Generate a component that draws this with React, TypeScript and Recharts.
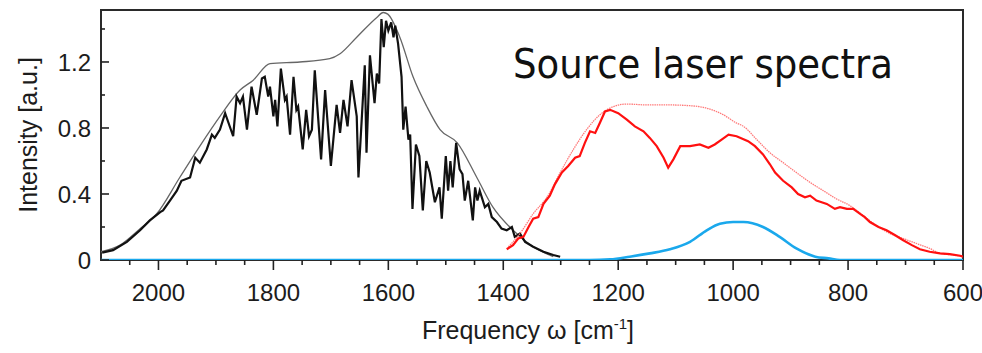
import { LineChart, Line, XAxis, YAxis, ReferenceArea } from 'recharts';

// [frequency cm-1, intensity a.u.]
const blackEnvelope = [
  [2100, 0.05], [2067, 0.09], [2032, 0.19], [2003, 0.28], [1963, 0.5], [1928, 0.69],
  [1893, 0.87], [1858, 1.03], [1835, 1.09], [1806, 1.19], [1754, 1.2], [1702, 1.22],
  [1684, 1.25], [1655, 1.35], [1620, 1.47], [1609, 1.5], [1601, 1.49], [1580, 1.35],
  [1557, 1.11], [1533, 0.93], [1510, 0.79], [1480, 0.71], [1446, 0.5], [1418, 0.32],
  [1383, 0.18], [1348, 0.08], [1313, 0.02],
];

const blackMeasured = [
  [2098, 0.045], [2079, 0.06], [2055, 0.11], [2032, 0.18], [2015, 0.24], [1997, 0.29],
  [1992, 0.3], [1980, 0.36], [1968, 0.42], [1960, 0.48], [1945, 0.5], [1936, 0.62],
  [1928, 0.59], [1916, 0.67], [1907, 0.76], [1902, 0.74], [1893, 0.79], [1884, 0.89],
  [1870, 0.75], [1864, 0.99], [1858, 0.95], [1853, 0.99], [1846, 0.79], [1838, 1.05],
  [1829, 0.88], [1820, 1.1], [1815, 1.11], [1809, 0.99], [1806, 1.05], [1800, 0.87],
  [1797, 0.97], [1793, 0.81], [1787, 1.16], [1780, 0.97], [1777, 0.99], [1771, 0.76],
  [1765, 1.11], [1760, 0.91], [1757, 0.93], [1749, 0.67], [1743, 0.91], [1738, 0.75],
  [1733, 0.79], [1728, 1.15], [1717, 0.61], [1710, 1.03], [1700, 0.57], [1690, 0.94],
  [1684, 0.77], [1678, 0.97], [1671, 0.81], [1664, 1.09], [1655, 0.87], [1652, 0.5],
  [1641, 1.18], [1638, 0.65], [1632, 1.24], [1624, 0.95], [1620, 1.13], [1616, 1.07],
  [1612, 1.46], [1608, 1.29], [1604, 1.45], [1600, 1.39], [1595, 1.44], [1591, 1.35],
  [1588, 1.42], [1583, 1.31], [1577, 1.11], [1574, 0.79], [1570, 0.93], [1565, 0.73],
  [1562, 0.76], [1558, 0.31], [1552, 0.7], [1546, 0.63], [1540, 0.3], [1534, 0.6],
  [1528, 0.53], [1519, 0.35], [1511, 0.44], [1507, 0.25], [1500, 0.63], [1496, 0.42],
  [1492, 0.6], [1488, 0.44], [1482, 0.71], [1476, 0.55], [1471, 0.52], [1467, 0.36],
  [1461, 0.48], [1453, 0.24], [1449, 0.44], [1445, 0.36], [1441, 0.42], [1432, 0.32],
  [1426, 0.34], [1420, 0.26], [1411, 0.23], [1403, 0.19], [1394, 0.18], [1385, 0.2],
  [1380, 0.14], [1371, 0.16], [1362, 0.11], [1348, 0.08], [1330, 0.05], [1313, 0.03],
  [1301, 0.02],
];

const redEnvelope = [
  [1391, 0.08], [1371, 0.16], [1348, 0.28], [1324, 0.38], [1301, 0.53], [1278, 0.67],
  [1255, 0.79], [1232, 0.88], [1208, 0.93], [1185, 0.945], [1151, 0.94], [1116, 0.94],
  [1075, 0.935], [1046, 0.92], [1017, 0.88], [994, 0.83], [982, 0.81], [959, 0.73],
  [936, 0.65], [913, 0.59], [890, 0.53], [866, 0.47], [843, 0.42], [820, 0.37],
  [797, 0.33], [774, 0.27], [751, 0.21], [727, 0.16], [704, 0.13], [681, 0.1],
  [658, 0.07], [640, 0.04], [617, 0.03], [600, 0.02],
];

const redMeasured = [
  [1394, 0.065], [1383, 0.09], [1374, 0.13], [1365, 0.14], [1356, 0.2], [1348, 0.25],
  [1339, 0.26], [1330, 0.34], [1319, 0.39], [1310, 0.46], [1298, 0.53], [1287, 0.57],
  [1275, 0.62], [1267, 0.63], [1258, 0.71], [1249, 0.78], [1240, 0.77], [1232, 0.83],
  [1223, 0.9], [1214, 0.91], [1200, 0.89], [1185, 0.85], [1171, 0.81], [1156, 0.78],
  [1145, 0.74], [1133, 0.69], [1121, 0.62], [1113, 0.56], [1104, 0.61], [1092, 0.69],
  [1075, 0.69], [1058, 0.7], [1043, 0.68], [1032, 0.7], [1020, 0.73], [1008, 0.76],
  [994, 0.75], [974, 0.72], [962, 0.69], [948, 0.64], [936, 0.58], [927, 0.53],
  [913, 0.48], [898, 0.44], [887, 0.4], [875, 0.38], [866, 0.39], [855, 0.36],
  [837, 0.34], [823, 0.31], [814, 0.32], [802, 0.31], [791, 0.31], [779, 0.28],
  [771, 0.26], [762, 0.23], [747, 0.2], [733, 0.18], [718, 0.15], [704, 0.12],
  [689, 0.09], [675, 0.065], [658, 0.05], [640, 0.04], [623, 0.036], [605, 0.026],
  [600, 0.02],
];

const blueSignal = [
  [2100, 0], [1250, 0], [1214, 0.004], [1180, 0.02], [1145, 0.04], [1110, 0.065],
  [1075, 0.11], [1046, 0.18], [1023, 0.22], [1000, 0.23], [982, 0.23], [948, 0.2],
  [919, 0.14], [890, 0.07], [857, 0.02], [834, 0.01], [814, 0], [600, 0],
];

const xTicks = [
  2050, 2000, 1950, 1900, 1850, 1800, 1750, 1700, 1650, 1600, 1550, 1500, 1450, 1400,
  1350, 1300, 1250, 1200, 1150, 1100, 1050, 1000, 950, 900, 850, 800, 750, 700, 650, 600,
];
const xLabels = [2000, 1800, 1600, 1400, 1200, 1000, 800, 600];
const yTicks = [0, 0.2, 0.4, 0.6, 0.8, 1.0, 1.2, 1.4];
const yLabels = [0, 0.4, 0.8, 1.2];

const toPoints = (arr: number[][]) => arr.map(([x, y]) => ({ x, y }));

const FONT = '"Liberation Sans", Arial, sans-serif';
const INK = '#1c1c1c';

const XTick = (props: any) => {
  const { x, y, payload } = props;
  const major = xLabels.includes(payload.value);
  return (
    <g>
      <line x1={x} x2={x} y1={y} y2={y + (major ? 10 : 5)} stroke="#222" strokeWidth={1.6} />
      {major && (
        <text x={x} y={y + 41} textAnchor="middle" fontSize={24} fontFamily={FONT} fill={INK}>
          {payload.value}
        </text>
      )}
    </g>
  );
};

const YTick = (props: any) => {
  const { x, y, payload } = props;
  const major = yLabels.some((v) => Math.abs(v - payload.value) < 1e-6);
  return (
    <g>
      <line x1={x} x2={x + (major ? 8 : 4)} y1={y} y2={y} stroke="#222" strokeWidth={1.6} />
      {major && (
        <text x={x - 10} y={y} dy="0.36em" textAnchor="end" fontSize={24} fontFamily={FONT} fill={INK}>
          {payload.value}
        </text>
      )}
    </g>
  );
};

export default function App() {
  return (
    <div style={{ position: 'absolute', left: 0, top: 0, width: 982, height: 353, background: '#fff' }}>
      <LineChart width={982} height={353} margin={{ top: 10, right: 19, bottom: 0, left: 0 }}>
        <XAxis
          type="number"
          dataKey="x"
          domain={[600, 2100]}
          reversed
          allowDataOverflow
          ticks={xTicks}
          tick={<XTick />}
          tickLine={false}
          axisLine={false}
          tickSize={0}
          tickMargin={0}
          height={93}
          interval={0}
        />
        <YAxis
          type="number"
          dataKey="y"
          domain={[0, 1.515]}
          allowDataOverflow
          ticks={yTicks}
          tick={<YTick />}
          tickLine={false}
          axisLine={false}
          tickSize={0}
          tickMargin={0}
          width={101}
          interval={0}
        />
        <ReferenceArea x1={2100} x2={600} y1={0} y2={1.515} fill="none" stroke="#2a2a2a" strokeWidth={2} />
        <Line data={toPoints(blackEnvelope)} dataKey="y" type="monotone" stroke="#666" strokeWidth={1.3} dot={false} isAnimationActive={false} />
        <Line data={toPoints(blackMeasured)} dataKey="y" type="linear" stroke="#111" strokeWidth={2.2} dot={false} isAnimationActive={false} />
        <Line data={toPoints(redEnvelope)} dataKey="y" type="monotone" stroke="#ff7a7a" strokeWidth={1.3} strokeDasharray="1.5 0.8" dot={false} isAnimationActive={false} />
        <Line data={toPoints(redMeasured)} dataKey="y" type="linear" stroke="#ff1010" strokeWidth={2.2} dot={false} isAnimationActive={false} />
        <Line data={toPoints(blueSignal)} dataKey="y" type="monotone" stroke="#1aa8ec" strokeWidth={2.6} dot={false} isAnimationActive={false} />
      </LineChart>
      <svg width={982} height={353} style={{ position: 'absolute', left: 0, top: 0, pointerEvents: 'none' }}>
        <text
          transform="translate(28,135) rotate(-90)"
          textAnchor="middle"
          dy="0.36em"
          fontSize={25}
          fontFamily={FONT}
          fill={INK}
        >
          Intensity [a.u.]
        </text>
        <text x={528} y={339} textAnchor="middle" fontSize={25} fontFamily={FONT} fill={INK}>
          Frequency ω [cm<tspan dy={-10} fontSize={15}>-1</tspan>
          <tspan dy={10}>]</tspan>
        </text>
        <text
          x={513}
          y={78}
          fontSize={40}
          fontFamily='"DejaVu Sans", Verdana, sans-serif'
          textLength={380}
          lengthAdjust="spacingAndGlyphs"
          fill="#111"
        >
          Source laser spectra
        </text>
      </svg>
    </div>
  );
}
